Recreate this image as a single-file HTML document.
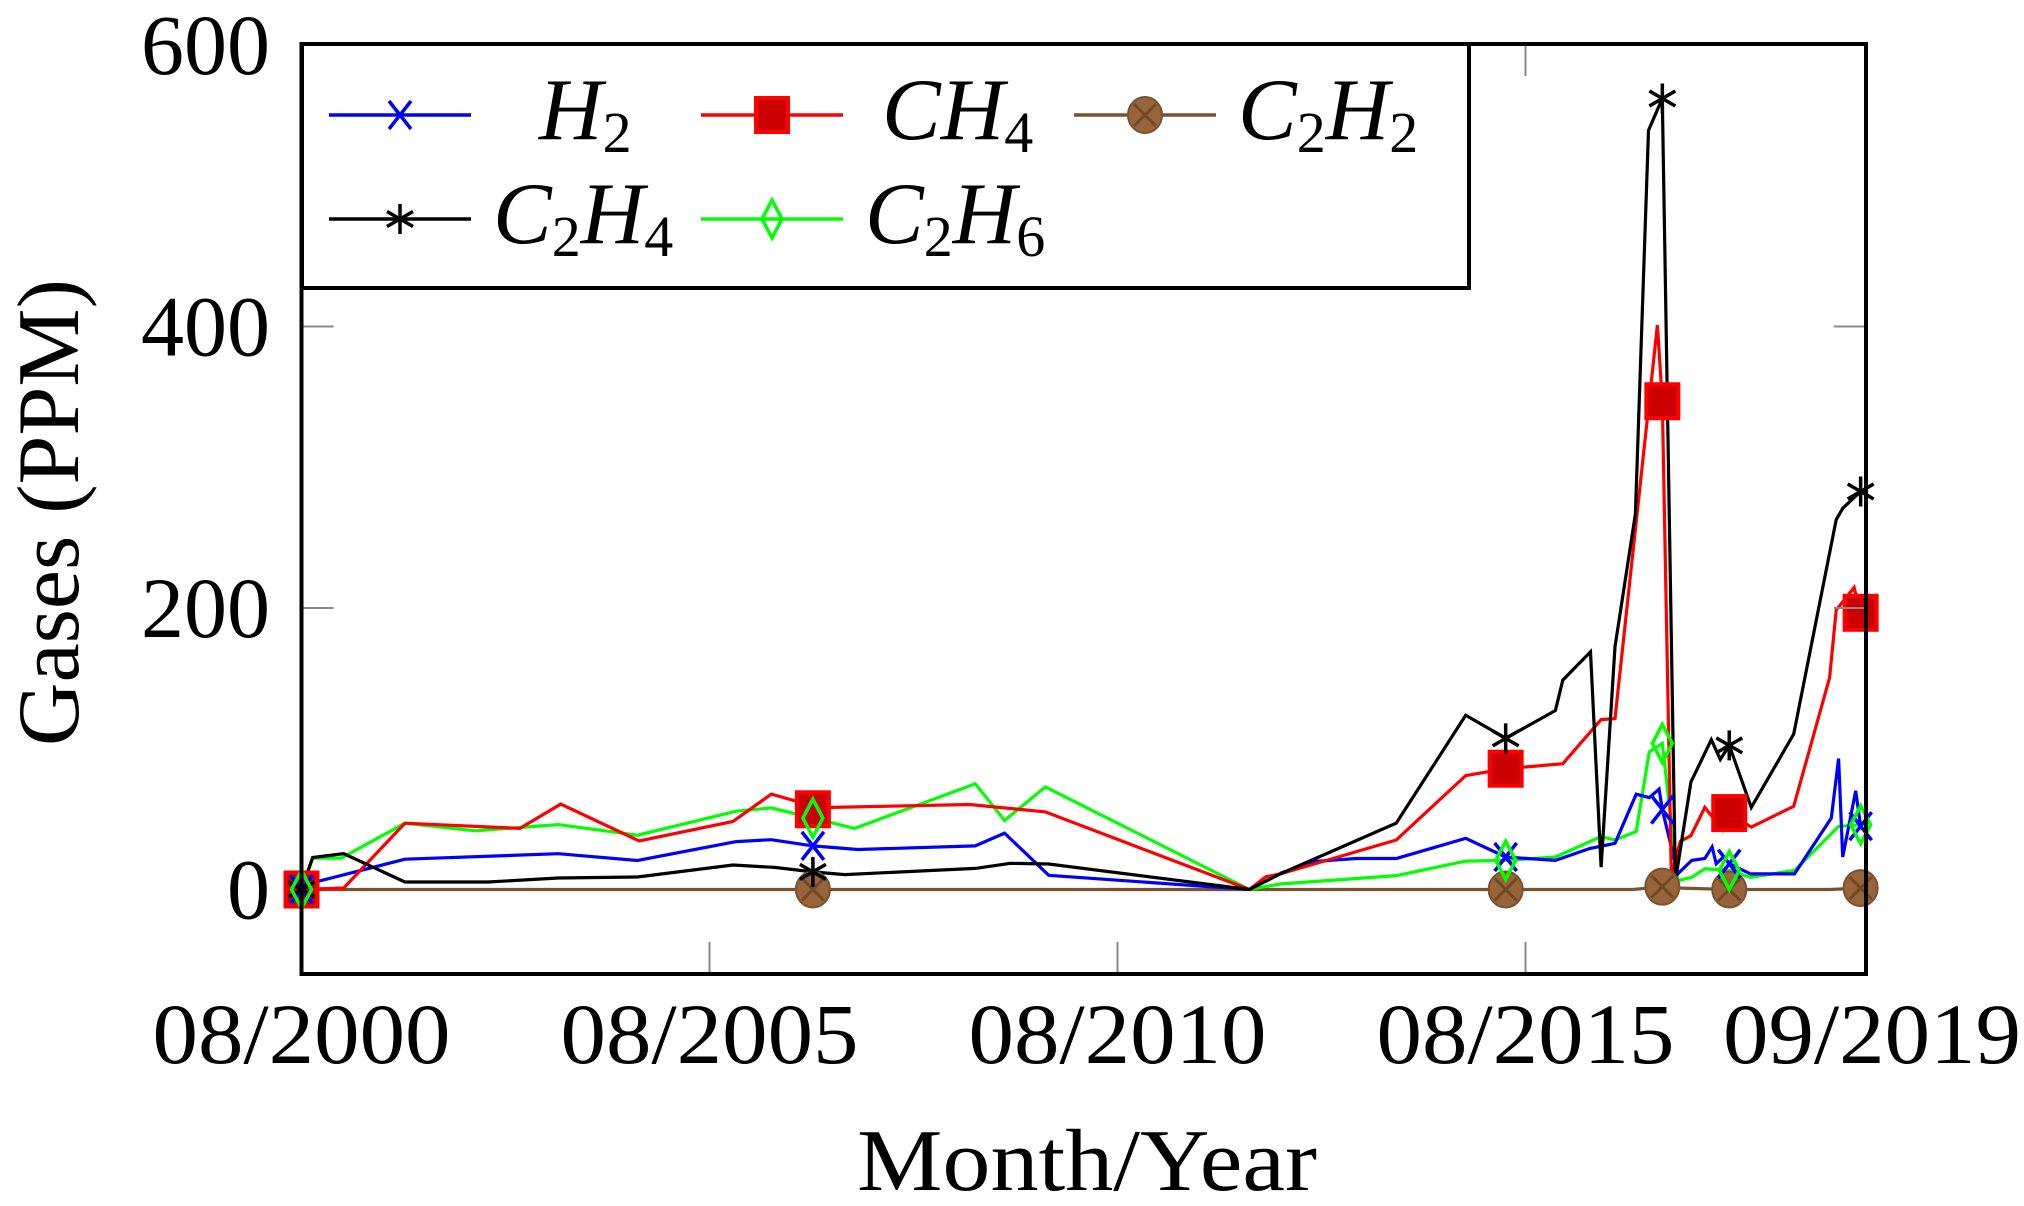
<!DOCTYPE html>
<html><head><meta charset="utf-8"><style>
html,body{margin:0;padding:0;background:#fff;}
svg{display:block;font-family:"Liberation Serif","DejaVu Serif",serif;}
</style></head>
<body>
<svg id="chart" width="2024" height="1206" viewBox="0 0 2024 1206" xmlns="http://www.w3.org/2000/svg">
<rect x="0" y="0" width="2024" height="1206" fill="#fff"/>
<g id="plot"></g>
<g id="axes"></g>
<g id="legend"></g>
</svg>
<script>
// ---- data ----
const xTickYears = [2000.583, 2005.583, 2010.583, 2015.583, 2019.69];
const xTickLabels = ["08/2000", "08/2005", "08/2010", "08/2015", "09/2019"];
const yTickValues = [0, 200, 400, 600];
const markYears = [2000.583, 2006.85, 2015.34, 2017.26, 2018.08, 2019.69];

const h2Years = [2000.583,2000.755,2001.85,2003.73,2004.70,2005.91,2006.34,2006.85,2007.40,2008.84,2009.20,2009.74,2012.20,2012.6,2013.0,2013.51,2014.0,2014.85,2015.34,2015.95,2016.37,2016.68,2016.94,2017.10,2017.22,2017.26,2017.45,2017.62,2017.78,2017.87,2017.92,2018.01,2018.08,2018.34,2018.88,2019.33,2019.42,2019.47,2019.63,2019.69];
const h2Vals = [0,5.3,21.5,25.4,20.6,34,35.4,31,28.4,31,40,10.1,0,12,20,22,22,36.4,23.1,20.7,29.1,32.8,67.7,65.3,71.3,56.8,11.1,20.7,22,30.3,18.3,23.1,18.3,11.1,11.1,50.8,93,23.1,70.1,45];

const ch4Years = [2000.583,2001.10,2001.85,2003.26,2003.76,2004.72,2005.87,2006.34,2006.69,2006.85,2007.08,2008.77,2009.70,2012.20,2012.4,2012.575,2014.0,2014.85,2015.34,2016.04,2016.51,2016.68,2017.20,2017.26,2017.37,2017.48,2017.61,2017.78,2018.0,2018.08,2018.35,2018.87,2019.31,2019.39,2019.61,2019.69];
const ch4Vals = [0,1.1,47.1,43.4,60.7,34.5,48.3,67.8,62,57,58.3,60.4,55.1,0,9,11,35.2,80.9,85.8,89.4,120.7,121.4,401,346.9,10.2,34.2,38.2,58.3,42.3,54.3,44.3,59.1,150.5,198.6,214.6,196.6];

const c2h2Years = [2000.583,2006.85,2015.34,2016.9,2017.26,2017.5,2018.08,2019.3,2019.69];
const c2h2Vals = [0,0,0,0,2,1,0,0,1];

const c2h4Years = [2000.583,2000.72,2001.10,2001.85,2002.87,2003.73,2004.70,2005.87,2006.38,2006.85,2007.24,2008.84,2009.27,2009.74,2012.20,2012.575,2014.0,2014.85,2015.34,2015.95,2016.04,2016.38,2016.51,2016.68,2016.93,2017.09,2017.26,2017.42,2017.61,2017.86,2017.97,2018.08,2018.35,2018.87,2019.39,2019.47,2019.69];
const c2h4Vals = [0,22.7,25.4,5.3,5.3,8.2,8.9,17.4,15.7,12.5,10.6,15,18.6,18.1,0,11,47.2,123.8,107.4,127.2,148.8,168.8,15.9,172.5,266.8,539.4,562,6.1,76.3,106.4,92.4,102.4,58.3,110.4,262.7,270.8,282.8];

const c2h6Years = [2000.583,2000.72,2001.07,2001.85,2002.71,2003.73,2004.70,2005.91,2006.34,2006.85,2007.36,2008.84,2009.20,2009.70,2012.20,2012.575,2014.0,2014.85,2015.34,2015.95,2016.51,2016.68,2016.94,2017.10,2017.26,2017.45,2017.62,2017.78,2018.08,2018.34,2018.88,2019.42,2019.69];
const c2h6Vals = [0,22.3,22.3,47.1,41.7,46.1,38.6,55.6,58,50.7,43.4,75.1,49,72.9,0,3.9,9.9,20.2,20.7,23.1,37.6,35.2,41.2,97.8,103.8,6.3,8.7,14.7,13.5,8.7,13.5,44.8,46];

// ---- scales ----
const X0 = 301.5, PXYR = 81.6, YR0 = 2000.583;
const Y0 = 889.5, PXV = 1.4075;
function sx(yr){ return X0 + (yr - YR0) * PXYR; }
function sy(v){ return Y0 - v * PXV; }
const NS = "http://www.w3.org/2000/svg";
function mk(tag, attrs, parent){
  const e = document.createElementNS(NS, tag);
  for (const k in attrs) e.setAttribute(k, attrs[k]);
  parent.appendChild(e);
  return e;
}
const plot = document.getElementById('plot');
const axes = document.getElementById('axes');
const legend = document.getElementById('legend');
const L = 301.5, R = 1866, T = 44, B = 974;

// ticks (gray, inside)
yTickValues.forEach(v => {
  if (v === 0 || v === 600) return;
  const y = sy(v);
  const t1 = mk('line', {x1:L, y1:y, x2:L+32, y2:y, stroke:'#888', 'stroke-width':2}, axes);
  
  
  const t2 = mk('line', {x1:R-32, y1:y, x2:R, y2:y, stroke:'#888', 'stroke-width':2}, axes);
  
  
});
xTickYears.forEach((yr, i) => {
  if (i === 0 || i === xTickYears.length - 1) return;
  const x = sx(yr);
  const t1 = mk('line', {x1:x, y1:B, x2:x, y2:B-32, stroke:'#888', 'stroke-width':2}, axes);
  
  
  const t2 = mk('line', {x1:x, y1:T, x2:x, y2:T+32, stroke:'#888', 'stroke-width':2}, axes);
  
  
});

// series lines
function drawLine(years, vals, color, name){
  const pts = years.map((yr, i) => sx(yr).toFixed(1) + ',' + sy(vals[i]).toFixed(1)).join(' ');
  const p = mk('polyline', {points:pts, fill:'none', stroke:color, 'stroke-width':3.2, 'stroke-linejoin':'miter'}, plot);
  
  
}
// markers
function drawMarker(type, x, y, parent, name){
  const g = mk('g', {}, parent);
  
  
  if (type === 'cross'){
    mk('line', {x1:x-11, y1:y-14, x2:x+11, y2:y+14, stroke:'#0000ff', 'stroke-width':3.5}, g);
    mk('line', {x1:x-11, y1:y+14, x2:x+11, y2:y-14, stroke:'#0000ff', 'stroke-width':3.5}, g);
  } else if (type === 'square'){
    mk('rect', {x:x-16, y:y-17, width:32, height:34, fill:'#cc0000', stroke:'#ff0000', 'stroke-width':4}, g);
  } else if (type === 'circle'){
    mk('ellipse', {cx:x, cy:y, rx:17, ry:18, fill:'#99643a', stroke:'#7a5230', 'stroke-width':2}, g);
    mk('line', {x1:x-11, y1:y-11, x2:x+11, y2:y+11, stroke:'#6e4a28', 'stroke-width':3}, g);
    mk('line', {x1:x-11, y1:y+11, x2:x+11, y2:y-11, stroke:'#6e4a28', 'stroke-width':3}, g);
  } else if (type === 'star'){
    for (let a = 0; a < 6; a++){
      const ang = (a * 60 - 90) * Math.PI / 180;
      mk('line', {x1:x, y1:y, x2:x + 15*Math.cos(ang), y2:y + 15*Math.sin(ang), stroke:'#000', 'stroke-width':3.5}, g);
    }
  } else if (type === 'diamond'){
    mk('polygon', {points:`${x},${y-19} ${x+10},${y} ${x},${y+19} ${x-10},${y}`, fill:'none', stroke:'#00ff00', 'stroke-width':3.5}, g);
  }
}
function drawMarks(years, vals, type, name){
  years.forEach((yr, i) => {
    if (markYears.some(m => Math.abs(m - yr) < 0.005)) drawMarker(type, sx(yr), sy(vals[i]), plot, name);
  });
}
drawLine(c2h2Years, c2h2Vals, '#7a5230', 'c2h2-line');
drawLine(c2h6Years, c2h6Vals, '#00ff00', 'c2h6-line');
drawLine(h2Years, h2Vals, '#0000ff', 'h2-line');
drawLine(ch4Years, ch4Vals, '#ff0000', 'ch4-line');
drawLine(c2h4Years, c2h4Vals, '#000000', 'c2h4-line');
drawMarks(c2h2Years, c2h2Vals, 'circle', 'c2h2-marker');
drawMarks(ch4Years, ch4Vals, 'square', 'ch4-marker');
drawMarks(h2Years, h2Vals, 'cross', 'h2-marker');
drawMarks(c2h4Years, c2h4Vals, 'star', 'c2h4-marker');
drawMarks(c2h6Years, c2h6Vals, 'diamond', 'c2h6-marker');

// frame
const fr = mk('rect', {x:L, y:T, width:R-L, height:B-T, fill:'none', stroke:'#000', 'stroke-width':4}, axes);



// tick labels
yTickValues.forEach(v => {
  const t = mk('text', {x:270, y:sy(v)+29, 'font-size':86, 'text-anchor':'end', fill:'#000'}, axes);
  t.textContent = String(v);
  
  
});
xTickYears.forEach((yr, i) => {
  const cx = (i === xTickYears.length - 1) ? 1872 : sx(yr);
  const t = mk('text', {x:cx-149, y:1063, 'font-size':86, textLength:298, lengthAdjust:'spacingAndGlyphs', fill:'#000'}, axes);
  t.textContent = xTickLabels[i];
  
  
});
const xt = mk('text', {x:857, y:1190, 'font-size':88, textLength:460, lengthAdjust:'spacingAndGlyphs', fill:'#000'}, axes);
xt.textContent = 'Month/Year';


const yt = mk('text', {x:0, y:0, 'font-size':88, textLength:467, lengthAdjust:'spacingAndGlyphs', fill:'#000', transform:'translate(78,746) rotate(-90)'}, axes);
yt.textContent = 'Gases (PPM)';



// legend
const lb = mk('rect', {x:302, y:44, width:1167, height:244, fill:'#fff', stroke:'#000', 'stroke-width':4}, legend);


function legendEntry(x1, x2, y, color, type, textX, parts, name){
  const g = mk('g', {}, legend);
  
  
  mk('line', {x1:x1, y1:y, x2:x2, y2:y, stroke:color, 'stroke-width':3.5}, g);
  drawMarker(type, (x1+x2)/2, y, g, name + '-marker');
  const t = mk('text', {x:textX, y:y+24, 'font-size':88, fill:'#000'}, g);
  parts.forEach(p => {
    const s = mk('tspan', {}, t);
    if (p[1]) { s.setAttribute('font-size', 58); s.setAttribute('dy', 13); s.setAttribute('font-style', 'normal'); }
    else { s.setAttribute('font-style', 'italic'); if (p[2]) s.setAttribute('dy', -13); }
    s.textContent = p[0];
  });
}
legendEntry(329, 471, 115, '#0000ff', 'cross', 539, [['H'],['2',1]], 'legend-entry-h2');
legendEntry(701, 843, 115, '#ff0000', 'square', 882, [['CH'],['4',1]], 'legend-entry-ch4');
legendEntry(1074, 1216, 115, '#7a5230', 'circle', 1238, [['C'],['2',1],['H',0,1],['2',1]], 'legend-entry-c2h2');
legendEntry(329, 471, 219, '#000000', 'star', 493, [['C'],['2',1],['H',0,1],['4',1]], 'legend-entry-c2h4');
legendEntry(701, 843, 219, '#00ff00', 'diamond', 865, [['C'],['2',1],['H',0,1],['6',1]], 'legend-entry-c2h6');
</script>
</body></html>
